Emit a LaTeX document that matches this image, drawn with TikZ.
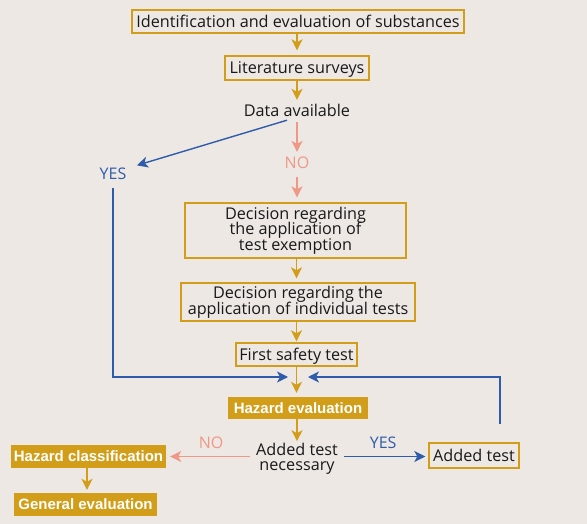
\documentclass[tikz,border=0pt]{standalone}
\usepackage{fontspec}
\setmainfont{Open Sans}
\newfontfamily\boldface{Liberation Sans}
\usetikzlibrary{arrows.meta}
\definecolor{bgc}{RGB}{237,232,228}
\definecolor{goldc}{RGB}{210,158,26}
\definecolor{bluec}{RGB}{46,92,170}
\definecolor{salmonc}{RGB}{240,152,134}
\definecolor{inkc}{RGB}{25,25,25}
\tikzset{
  txt/.style={font=\fontsize{16.2}{17}\selectfont, text=inkc, align=center, inner sep=0pt},
  line/.style={txt, text height=14pt, text depth=2pt},
  obox/.style={txt, draw=goldc, line width=1.4pt, fill=bgc},
  fbox/.style={font=\boldface\fontsize{15}{17}\selectfont\bfseries, text=white, fill=goldc, inner sep=0pt, align=center},
  tip/.style={-{Stealth[length=11pt,width=11pt,inset=3pt]}},
  garrow/.style={tip, draw=goldc, line width=1.4pt},
  barrow/.style={tip, draw=bluec, line width=1.4pt},
  sarrow/.style={tip, draw=salmonc, line width=1.6pt},
  blab/.style={font=\fontsize{16}{17}\selectfont, text=bluec, inner sep=0pt},
  slab/.style={font=\fontsize{16}{17}\selectfont, text=salmonc, inner sep=0pt},
}
\begin{document}
\begin{tikzpicture}[x=1pt,y=-1pt]
  \fill[bgc] (0,0) rectangle (587,524);
  \useasboundingbox (0,0) rectangle (587,524);

  % main chain
  \node[obox, line, minimum width=332pt, minimum height=23pt] (ident) at (298,21.5) {Identification and evaluation of substances};
  \node[obox, line, minimum width=144pt, minimum height=24pt] (lit) at (297,68) {Literature surveys};
  \node[line] (data) at (297,111) {Data available};
  \node[slab] (no1) at (297,163) {NO};
  \node[blab] (yes1) at (113,174) {YES};
  \node[obox, minimum width=221pt, minimum height=55pt] (exempt) at (295.5,230.5) {Decision regarding\\[-1.5pt] the application of\\[-1.5pt] test exemption};
  \node[obox, minimum width=234pt, minimum height=38pt] (indiv) at (298,302) {Decision regarding the\\[-1pt] application of individual tests};
  \node[obox, line, minimum width=121pt, minimum height=23pt] (first) at (296.5,354.5) {First safety test};
  \node[fbox, minimum width=140pt, minimum height=22pt] (hazev) at (298,408) {Hazard evaluation};
  \node[txt] (nec) at (297,459) {Added test\\[-2pt] necessary};
  \node[obox, line, minimum width=90pt, minimum height=25pt] (added) at (474,455.5) {Added test};
  \node[fbox, minimum width=155pt, minimum height=23pt] (hazcl) at (88.5,456.5) {Hazard classification};
  \node[fbox, minimum width=143pt, minimum height=23pt] (general) at (85.5,504.5) {General evaluation};

  \coordinate (mergeL) at (288,377);
  \coordinate (mergeR) at (308,377);

  % gold arrows, kept vertical
  \draw[garrow, shorten >=5pt] ([xshift=-1pt]ident.south) -- ([xshift=-1pt]ident.south |- lit.north);
  \draw[garrow, shorten >=3pt] (lit.south) -- (lit.south |- data.north);
  \draw[garrow, shorten >=4pt] (exempt.south -| first) -- (indiv.north -| first);
  \draw[garrow, shorten >=1pt] (indiv.south -| first) -- (first.north);
  \draw[garrow, shorten >=4pt] (first.south) -- (first.south |- hazev.north);
  \draw[garrow, shorten >=2pt] (hazev.south -| nec) -- (nec.north);
  \draw[garrow, shorten >=3pt] ([xshift=-1.5pt]hazcl.south) -- ([xshift=-1.5pt]hazcl.south |- general.north);

  % salmon NO arrows
  \draw[sarrow, shorten <=3pt, shorten >=5pt] (data) -- (no1);
  \draw[sarrow, shorten <=8pt, shorten >=5pt] (no1) -- (no1 |- exempt.north);
  \draw[sarrow, shorten <=6pt, shorten >=4pt] (nec.west |- hazcl) -- node[slab, above=7pt] {NO} (hazcl.east);

  % blue YES arrows
  \draw[barrow, shorten >=2pt] ([xshift=-10pt,yshift=-1pt]data.south) -- ([xshift=22pt,yshift=2pt]yes1.north);
  \draw[bluec, line width=1.2pt, -{Stealth[length=11pt,width=11pt,inset=3pt]}] ([yshift=-8pt]yes1.south) |- (mergeL);
  \draw[bluec, line width=1.2pt, -{Stealth[length=11pt,width=11pt,inset=3pt]}] ([xshift=26pt,yshift=18pt]added.north) |- (mergeR);
  \draw[barrow, shorten <=6pt, shorten >=3pt] (nec.east |- hazcl) -- node[blab, above=7pt] {YES} (added.west |- hazcl);
\end{tikzpicture}
\end{document}
